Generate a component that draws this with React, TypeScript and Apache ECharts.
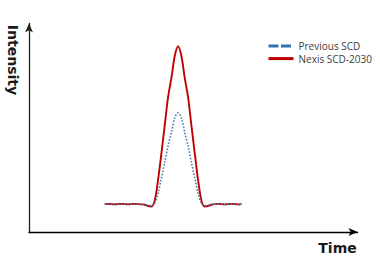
import React, { useEffect, useRef } from "react";
import * as echarts from "echarts";

const seriesNames = ["Previous SCD", "Nexis SCD-2030"];

const time = [
  22.7, 23.7, 24.7, 25.7, 26.7, 27.7, 28.7, 29.7, 30.7, 31.7, 32.7, 33.7, 34.7, 35.7,
  36.7, 37.7, 38.7, 39.7, 40.7, 41.7, 42.7, 43.7, 44.7, 45.7, 46.7, 47.7, 48.7, 49.7,
  50.7, 51.7, 52.7, 53.7, 54.7, 55.7, 56.7, 57.7, 58.7, 59.7, 60.7, 61.7, 62.7, 63.7,
];

const nexis = [
  13.1, 13.2, 13.1, 13.0, 13.1, 13.2, 13.1, 13.0, 13.1, 13.2, 13.1, 13.0, 12.8, 12.2,
  12.0, 14.8, 24.5, 37.0, 50.1, 63.4, 72.4, 82.7, 87.3, 82.7, 72.4, 63.4, 50.1, 37.0,
  24.5, 14.8, 12.0, 12.2, 12.8, 13.1, 13.2, 13.1, 13.0, 13.1, 13.2, 13.1, 13.0, 13.1,
];

const previous = [
  13.1, 13.0, 13.1, 13.2, 13.1, 13.0, 13.1, 13.2, 13.1, 13.0, 13.1, 13.1, 13.0, 12.6,
  12.4, 13.6, 18.1, 25.5, 32.8, 40.4, 46.8, 53.7, 56.0, 53.7, 46.8, 40.4, 32.8, 25.5,
  18.1, 13.6, 12.4, 12.6, 13.0, 13.1, 13.2, 13.1, 13.0, 13.1, 13.2, 13.1, 13.0, 13.1,
];

const xTitle = "Time";
const yTitle = "Intensity";

export default function App() {
  const ref = useRef<HTMLDivElement>(null);
  useEffect(() => {
    if (!ref.current) return;
    const chart = echarts.init(ref.current, undefined, { renderer: "svg" });
    const pairs = (vals: number[]) => time.map((t, i) => [t, vals[i]]);
    const hidden = { color: "rgba(0,0,0,0)", borderColor: "rgba(0,0,0,0)", borderWidth: 0, opacity: 0 };
    chart.setOption({
      animation: false,
      grid: { left: 29, right: 22.5, top: 23.5, bottom: 28 },
      legend: {
        orient: "vertical",
        left: 267,
        top: 40,
        padding: 0,
        itemWidth: 25,
        itemHeight: 8,
        itemGap: 0.6,
        textStyle: { fontFamily: "Open Sans", fontSize: 10, color: "#404040", lineHeight: 12 },
        data: [
          {
            name: seriesNames[0],
            itemStyle: hidden,
            lineStyle: { type: [10, 2.5], width: 3, color: "#2e75b6" },
          },
          {
            name: seriesNames[1],
            itemStyle: hidden,
            lineStyle: { type: "solid", width: 3, color: "#c00000" },
          },
        ],
      },
      xAxis: {
        type: "value",
        min: 0,
        max: 98.5,
        axisLine: {
          show: true,
          symbol: ["none", "arrow"],
          symbolSize: [6, 9],
          lineStyle: { color: "#000", width: 1.3 },
        },
        axisTick: { show: false },
        axisLabel: { show: false },
        splitLine: { show: false },
      },
      yAxis: {
        type: "value",
        min: 0,
        max: 98,
        axisLine: {
          show: true,
          symbol: ["none", "arrow"],
          symbolSize: [6, 9],
          lineStyle: { color: "#222", width: 1.3 },
        },
        axisTick: { show: false },
        axisLabel: { show: false },
        splitLine: { show: false },
      },
      series: [
        {
          name: seriesNames[1],
          type: "line",
          data: pairs(nexis),
          showSymbol: false,
          symbol: "none",
          smooth: 0.3,
          lineStyle: { color: "#c00000", width: 1.9 },
          itemStyle: { color: "#c00000" },
          z: 2,
        },
        {
          name: seriesNames[0],
          type: "line",
          data: pairs(previous),
          showSymbol: false,
          symbol: "none",
          smooth: 0.3,
          lineStyle: { color: "#4f7fa8", width: 1.6, type: [1.6, 1.6] },
          itemStyle: { color: "#2e75b6" },
          z: 3,
        },
      ],
      graphic: [
        {
          type: "text",
          x: 12.5,
          y: 60,
          rotation: -Math.PI / 2,
          style: {
            text: yTitle,
            fontFamily: "DejaVu Sans",
            fontWeight: "bold",
            fontSize: 14,
            fill: "#1a1a1a",
            textAlign: "center",
            textVerticalAlign: "middle",
          },
        },
        {
          type: "text",
          x: 337.5,
          y: 248,
          style: {
            text: xTitle,
            fontFamily: "DejaVu Sans",
            fontWeight: "bold",
            fontSize: 14,
            fill: "#1a1a1a",
            textAlign: "center",
            textVerticalAlign: "middle",
          },
        },
      ],
    });
    return () => chart.dispose();
  }, []);
  return (
    <div
      ref={ref}
      style={{ position: "fixed", left: 0, top: 0, width: 380, height: 260, background: "#fff" }}
    />
  );
}
